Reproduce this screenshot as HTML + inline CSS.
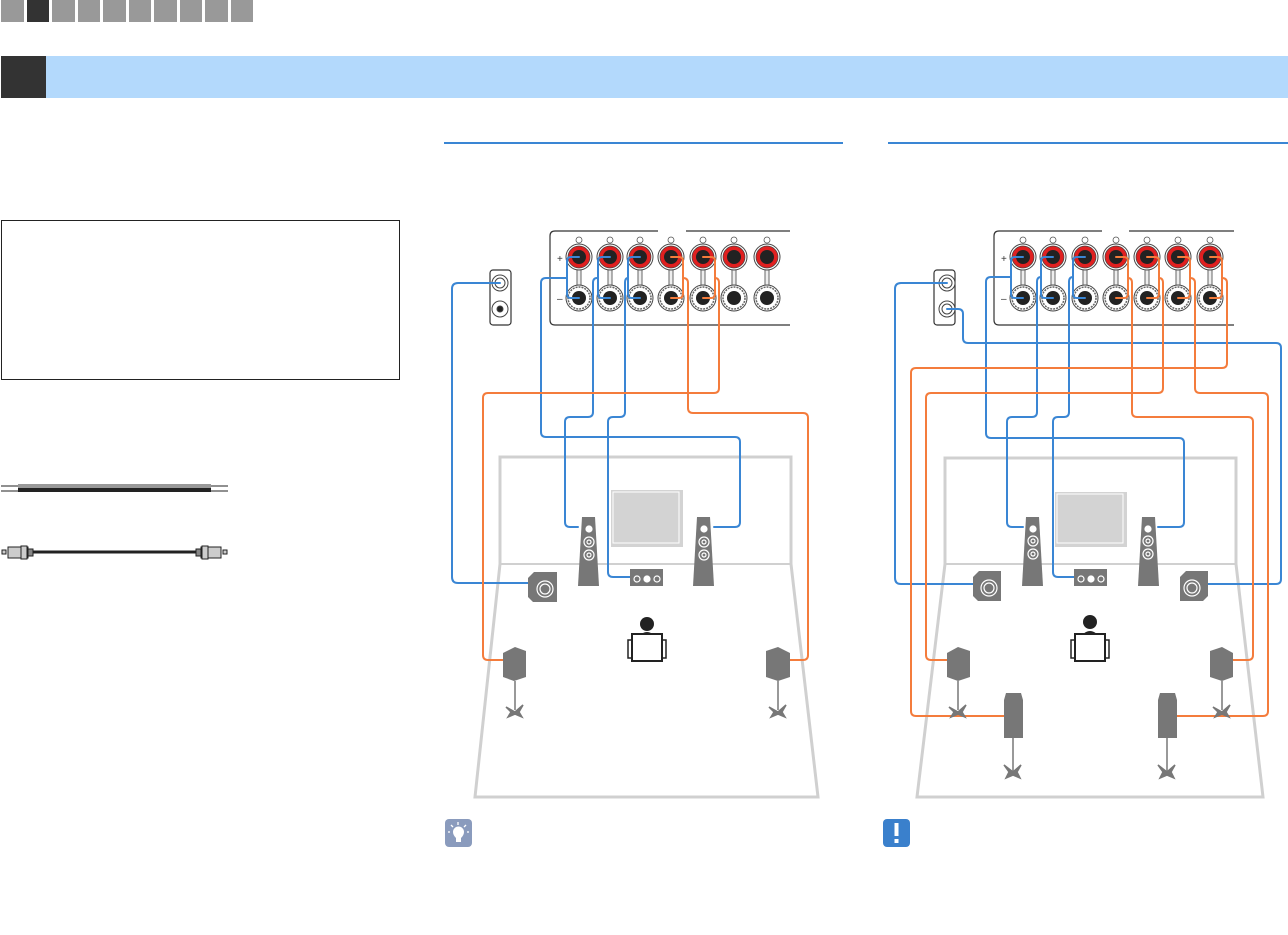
<!DOCTYPE html>
<html><head><meta charset="utf-8"><style>
html,body{margin:0;padding:0;background:#fff;width:1288px;height:935px;overflow:hidden;font-family:"Liberation Sans",sans-serif}
</style></head><body>
<svg width="1288" height="935" viewBox="0 0 1288 935" xmlns="http://www.w3.org/2000/svg">
<defs>
<g id="term">
 <circle r="12.5" fill="#fff" stroke="#555" stroke-width="1"/>
</g>
</defs>
<!-- top nav -->
<g fill="#999">
<rect x="1" y="0" width="23" height="22"/><rect x="27" y="0" width="22" height="22" fill="#333"/>
<rect x="52" y="0" width="23" height="22"/><rect x="78" y="0" width="22" height="22"/>
<rect x="103" y="0" width="23" height="22"/><rect x="129" y="0" width="22" height="22"/>
<rect x="154" y="0" width="23" height="22"/><rect x="180" y="0" width="22" height="22"/>
<rect x="205" y="0" width="23" height="22"/><rect x="231" y="0" width="22" height="22"/>
</g>
<rect x="1" y="56" width="45" height="42" fill="#333"/>
<rect x="46" y="56" width="1242" height="42" fill="#b3d9fc"/>
<!-- left box -->
<rect x="1.5" y="220.5" width="398" height="159" fill="none" stroke="#222" stroke-width="1"/>
<!-- cables -->
<rect x="18" y="484" width="193" height="4" fill="#999"/>
<rect x="18" y="488" width="193" height="4" fill="#222"/>
<line x1="1" y1="486" x2="18" y2="486" stroke="#222"/><line x1="1" y1="491" x2="18" y2="491" stroke="#222"/>
<line x1="211" y1="486" x2="228" y2="486" stroke="#222"/><line x1="211" y1="491" x2="228" y2="491" stroke="#222"/>
<line x1="32" y1="552" x2="196" y2="552" stroke="#222" stroke-width="3"/>
<g stroke="#222" stroke-width="1" fill="#ccc">
<rect x="2" y="550" width="4" height="4"/><rect x="8" y="547" width="20" height="11"/><rect x="21" y="546" width="6" height="13"/><rect x="28" y="549" width="5" height="7" fill="#888"/>
<rect x="223" y="550" width="4" height="4"/><rect x="201" y="547" width="20" height="11"/><rect x="202" y="546" width="6" height="13"/><rect x="196" y="549" width="5" height="7" fill="#888"/>
</g>
<!-- heading lines -->
<line x1="444" y1="143" x2="843" y2="143" stroke="#3a86d4" stroke-width="2"/>
<line x1="888" y1="143" x2="1288" y2="143" stroke="#3a86d4" stroke-width="2"/>

<!-- ROOMS -->
<g fill="none" stroke="#d0d0d0" stroke-width="3">
<path d="M500,457 H791 V564 L818,797 H475 L500,564 Z"/><line x1="500" y1="564" x2="791" y2="564" stroke-width="2"/>
<path d="M945,458 H1236 V564 L1263,797 H917 L945,564 Z"/><line x1="945" y1="564" x2="1236" y2="564" stroke-width="2"/>
</g>
<rect x="611" y="490" width="72" height="57" fill="#d3d3d3"/><rect x="613" y="492" width="66" height="51" fill="#d3d3d3" stroke="#fff" stroke-width="1"/>
<rect x="1055" y="492" width="72" height="55" fill="#d3d3d3"/><rect x="1057" y="494" width="66" height="49" fill="#d3d3d3" stroke="#fff" stroke-width="1"/>

<!-- panels -->
<g fill="none" stroke="#333" stroke-width="1.2">
<path d="M658,231 H555 Q550,231 550,236 V320 Q550,325 555,325 H790"/><line x1="686" y1="231" x2="790" y2="231"/>
<rect x="490" y="270" width="21" height="55" rx="3"/>
<path d="M1102,231 H999 Q994,231 994,236 V320 Q994,325 999,325 H1234"/><line x1="1129" y1="231" x2="1234" y2="231"/>
<rect x="934" y="270" width="21" height="55" rx="3"/>
</g>
<g fill="#fff" stroke="#444" stroke-width="1">
<circle cx="500" cy="283" r="8"/><circle cx="500" cy="283" r="5"/><circle cx="500" cy="309" r="8"/><circle cx="500" cy="309" r="3" fill="#222"/>
<circle cx="947" cy="283" r="8"/><circle cx="947" cy="283" r="5"/><circle cx="947" cy="309" r="8"/><circle cx="947" cy="309" r="5"/>
</g>
<g font-size="10" fill="#333"><text x="557" y="262">+</text><text x="557" y="302">–</text><text x="1001" y="262">+</text><text x="1001" y="302">–</text></g>
<!-- terminals -->
<g id="termsL">
</g>
<script>
(function(){
 var ns="http://www.w3.org/2000/svg",svg=document.currentScript.parentNode;
 function el(t,a){var e=document.createElementNS(ns,t);for(var k in a)e.setAttribute(k,a[k]);svg.appendChild(e);return e;}
 var L=[579,610,640,671,703,734,767],R=[1023,1053,1085,1116,1147,1178,1210];
 [L,R].forEach(function(cs){cs.forEach(function(x){
  el("line",{x1:x,y1:268,x2:x,y2:288,stroke:"#666","stroke-width":5});
  el("line",{x1:x,y1:268,x2:x,y2:288,stroke:"#eee","stroke-width":3});
  el("circle",{cx:x,cy:257,r:13,fill:"#fff",stroke:"#444"});
  el("circle",{cx:x,cy:257,r:11,fill:"#e02020",stroke:"#444","stroke-width":0.7});
  el("circle",{cx:x,cy:257,r:7,fill:"#222"});
  el("circle",{cx:x,cy:298,r:13,fill:"#fff",stroke:"#444"});
  el("circle",{cx:x,cy:298,r:11,fill:"#fff",stroke:"#666","stroke-width":1.5,"stroke-dasharray":"2 1"});
  el("circle",{cx:x,cy:298,r:7,fill:"#222"});
  el("circle",{cx:x,cy:240,r:3,fill:"none",stroke:"#555","stroke-width":0.8});
 });});
})();
</script>

<!-- WIRES -->
<g fill="none" stroke-width="2" stroke-linejoin="round" stroke-linecap="round">
<g stroke="#3a86d4">
<!-- left loops -->
<path d="M579,257 H571 Q567,257 567,261 V294 Q567,298 571,298 H579"/>
<path d="M610,257 H602 Q598,257 598,261 V294 Q598,298 602,298 H610"/>
<path d="M640,257 H632 Q628,257 628,261 V294 Q628,298 632,298 H640"/>
<path d="M500,283 H458 Q452,283 452,289 V577 Q452,583 458,583 H528"/>
<path d="M567,278 H546 Q541,278 541,283 V432 Q541,437 546,437 H735 Q740,437 740,442 V522 Q740,527 735,527 H714"/>
<path d="M598,278 H597 Q593,278 593,283 V412 Q593,417 588,417 H570 Q565,417 565,422 V522 Q565,527 570,527 H578"/>
<path d="M628,278 Q625,278 625,283 V412 Q625,417 620,417 H613 Q608,417 608,422 V572 Q608,577 613,577 H630"/>
<!-- right -->
<path d="M1023,257 H1015 Q1011,257 1011,261 V294 Q1011,298 1015,298 H1023"/>
<path d="M1053,257 H1045 Q1041,257 1041,261 V294 Q1041,298 1045,298 H1053"/>
<path d="M1085,257 H1077 Q1073,257 1073,261 V294 Q1073,298 1077,298 H1085"/>
<path d="M947,283 H901 Q895,283 895,289 V578 Q895,584 901,584 H973"/>
<path d="M947,309 H958 Q963,309 963,314 V338 Q963,343 968,343 H1276 Q1281,343 1281,348 V579 Q1281,584 1276,584 H1208"/>
<path d="M1011,277 H991 Q986,277 986,282 V433 Q986,438 991,438 H1179 Q1184,438 1184,443 V522 Q1184,527 1179,527 H1158"/>
<path d="M1041,277 Q1037,277 1037,282 V412 Q1037,417 1032,417 H1012 Q1007,417 1007,422 V522 Q1007,527 1012,527 H1023"/>
<path d="M1073,277 Q1069,277 1069,282 V412 Q1069,417 1064,417 H1058 Q1053,417 1053,422 V572 Q1053,577 1058,577 H1074"/>
</g>
<g stroke="#f47c3c">
<path d="M671,257 H679 Q683,257 683,261 V294 Q683,298 679,298 H671"/>
<path d="M703,257 H711 Q715,257 715,261 V294 Q715,298 711,298 H703"/>
<path d="M683,278 Q688,278 688,283 V408 Q688,413 693,413 H803 Q808,413 808,418 V655 Q808,660 803,660 H790"/>
<path d="M715,278 Q719,278 719,283 V388 Q719,393 714,393 H488 Q483,393 483,398 V655 Q483,660 488,660 H503"/>
<path d="M1116,257 H1124 Q1128,257 1128,261 V294 Q1128,298 1124,298 H1116"/>
<path d="M1147,257 H1155 Q1159,257 1159,261 V294 Q1159,298 1155,298 H1147"/>
<path d="M1178,257 H1186 Q1190,257 1190,261 V294 Q1190,298 1186,298 H1178"/>
<path d="M1210,257 H1218 Q1222,257 1222,261 V294 Q1222,298 1218,298 H1210"/>
<path d="M1128,278 Q1132,278 1132,283 V412 Q1132,417 1137,417 H1248 Q1253,417 1253,422 V655 Q1253,660 1248,660 H1233"/>
<path d="M1159,278 Q1163,278 1163,283 V388 Q1163,393 1158,393 H931 Q926,393 926,398 V655 Q926,660 931,660 H947"/>
<path d="M1190,278 Q1195,278 1195,283 V388 Q1195,393 1200,393 H1263 Q1268,393 1268,398 V711 Q1268,716 1263,716 H1177"/>
<path d="M1222,278 Q1227,278 1227,283 V363 Q1227,368 1222,368 H916 Q911,368 911,373 V711 Q911,716 916,716 H1004"/>
</g>
</g>

<!-- SPEAKERS -->
<g fill="#777">
<!-- left diagram -->
<polygon points="582,517 595,517 599,586 578,586"/><polygon points="697,517 710,517 714,586 693,586"/>
<rect x="630" y="569" width="33" height="17"/>
<polygon points="528,578 534,572 557,572 557,602 533,602 528,597"/>
<polygon points="503,653 515,647 526,651 526,677 514,681 503,677"/>
<polygon points="766,651 778,647 790,653 790,677 778,681 766,677"/>
<!-- right diagram -->
<polygon points="1026,517 1039,517 1043,586 1022,586"/><polygon points="1142,517 1155,517 1159,586 1138,586"/>
<rect x="1074" y="569" width="33" height="17"/>
<polygon points="973,577 979,571 1001,571 1001,601 978,601 973,596"/>
<polygon points="1180,577 1186,571 1208,571 1208,596 1203,601 1180,601"/>
<polygon points="947,653 958,647 970,651 970,677 958,681 947,677"/>
<polygon points="1210,651 1222,647 1233,653 1233,677 1222,681 1210,677"/>
<polygon points="1006,693 1021,693 1023,700 1023,738 1004,738 1004,700"/>
<polygon points="1160,693 1175,693 1177,700 1177,738 1158,738 1158,700"/>
</g>
<g fill="none" stroke="#fff" stroke-width="1.2">
<circle cx="589" cy="529" r="3" fill="#fff"/><circle cx="589" cy="542" r="5"/><circle cx="589" cy="542" r="2"/><circle cx="589" cy="555" r="5"/><circle cx="589" cy="555" r="2"/>
<circle cx="704" cy="529" r="3" fill="#fff"/><circle cx="704" cy="542" r="5"/><circle cx="704" cy="542" r="2"/><circle cx="704" cy="555" r="5"/><circle cx="704" cy="555" r="2"/>
<circle cx="1033" cy="529" r="3" fill="#fff"/><circle cx="1033" cy="541" r="5"/><circle cx="1033" cy="541" r="2"/><circle cx="1033" cy="554" r="5"/><circle cx="1033" cy="554" r="2"/>
<circle cx="1148" cy="529" r="3" fill="#fff"/><circle cx="1148" cy="541" r="5"/><circle cx="1148" cy="541" r="2"/><circle cx="1148" cy="554" r="5"/><circle cx="1148" cy="554" r="2"/>
<circle cx="637" cy="579" r="3"/><circle cx="647" cy="579" r="3" fill="#fff"/><circle cx="657" cy="579" r="3"/>
<circle cx="1081" cy="579" r="3"/><circle cx="1091" cy="579" r="3" fill="#fff"/><circle cx="1101" cy="579" r="3"/>
<circle cx="545" cy="589" r="8"/><circle cx="545" cy="589" r="5"/>
<circle cx="989" cy="588" r="8"/><circle cx="989" cy="588" r="5"/>
<circle cx="1192" cy="588" r="8"/><circle cx="1192" cy="588" r="5"/>
</g>
<!-- stands -->
<g stroke="#777" stroke-width="1.5" fill="#777">
<line x1="515" y1="681" x2="515" y2="710"/><path d="M506,707 L515,712 L523,705 L519,712 L522,717 L515,714 L508,717 L511,712Z"/>
<line x1="778" y1="681" x2="778" y2="710"/><path d="M769,707 L778,712 L786,705 L782,712 L785,717 L778,714 L771,717 L774,712Z"/>
<line x1="958" y1="681" x2="958" y2="710"/><path d="M949,707 L958,712 L966,705 L962,712 L965,717 L958,714 L951,717 L954,712Z"/>
<line x1="1222" y1="681" x2="1222" y2="710"/><path d="M1213,707 L1222,712 L1230,705 L1226,712 L1229,717 L1222,714 L1215,717 L1218,712Z"/>
<line x1="1013" y1="738" x2="1013" y2="772"/><path d="M1004,765 L1013,772 L1021,765 L1017,772 L1020,778 L1013,775 L1006,778 L1009,772Z"/>
<line x1="1167" y1="738" x2="1167" y2="772"/><path d="M1158,765 L1167,772 L1175,765 L1171,772 L1174,778 L1167,775 L1160,778 L1163,772Z"/>
</g>
<!-- persons -->
<g>
<circle cx="647" cy="624" r="7" fill="#222"/><path d="M639,636 Q647,628 655,636Z" fill="#222"/>
<rect x="632" y="634" width="30" height="27" fill="#fff" stroke="#222" stroke-width="2"/>
<rect x="628" y="640" width="4" height="18" fill="none" stroke="#222" stroke-width="1.5"/><rect x="662" y="640" width="4" height="18" fill="none" stroke="#222" stroke-width="1.5"/>
<circle cx="1090" cy="622" r="7" fill="#222"/><path d="M1082,635 Q1090,627 1098,635Z" fill="#222"/>
<rect x="1075" y="634" width="30" height="27" fill="#fff" stroke="#222" stroke-width="2"/>
<rect x="1071" y="640" width="4" height="18" fill="none" stroke="#222" stroke-width="1.5"/><rect x="1105" y="640" width="4" height="18" fill="none" stroke="#222" stroke-width="1.5"/>
</g>
<!-- icons -->
<rect x="445" y="819" width="27" height="28" rx="4" fill="#8a9bbd"/>
<path d="M453,832 a5.5,5.5 0 1 1 11,0 q0,3 -3,6 v4 h-5 v-4 q-3,-3 -3,-6z" fill="#fff"/>
<g stroke="#fff" stroke-width="1.3"><line x1="458" y1="822" x2="458" y2="825"/><line x1="451" y1="825" x2="453" y2="827"/><line x1="466" y1="825" x2="464" y2="827"/><line x1="448" y1="832" x2="450" y2="832"/><line x1="467" y1="832" x2="469" y2="832"/></g>
<rect x="883" y="819" width="27" height="28" rx="4" fill="#3a80cc"/>
<rect x="894.5" y="823" width="4" height="13" fill="#fff"/><rect x="894.5" y="839" width="4" height="4" fill="#fff"/>
</svg>
</body></html>
